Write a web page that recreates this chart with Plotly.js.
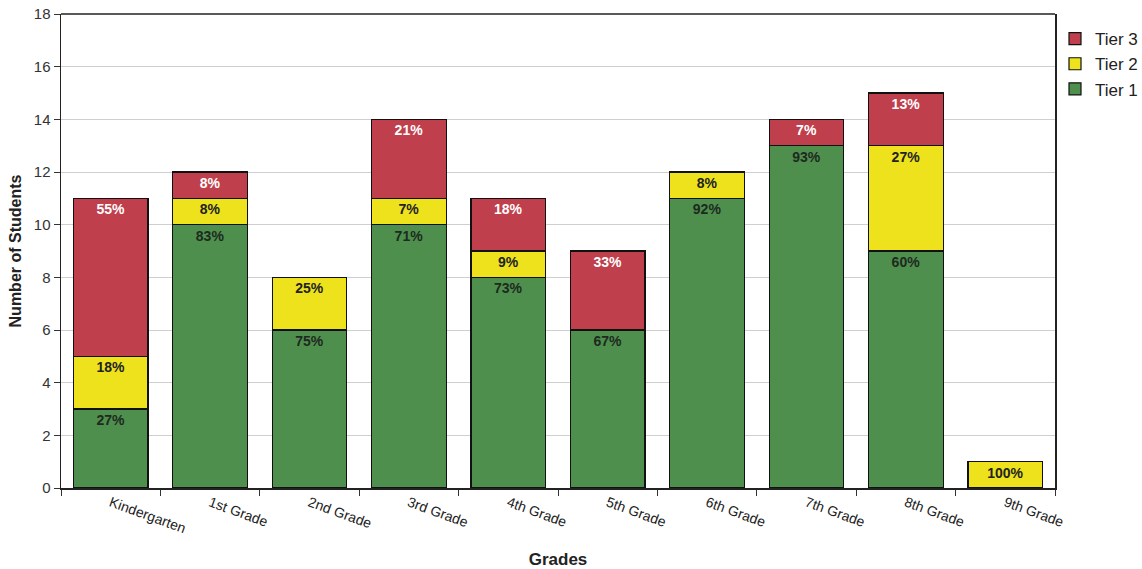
<!DOCTYPE html>
<html><head><meta charset="utf-8">
<script src="https://cdn.plot.ly/plotly-3.0.1.min.js"></script>
<style>body{margin:0;background:#fff}#c{width:1142px;height:569px}</style>
</head><body><div id="c"></div>
<script>
const grades = ["Kindergarten","1st Grade","2nd Grade","3rd Grade","4th Grade","5th Grade","6th Grade","7th Grade","8th Grade","9th Grade"];
const tier1 = [3,10,6,10,8,6,11,13,9,0];
const tier2 = [2,1,2,1,1,0,1,0,4,1];
const tier3 = [6,1,0,3,2,3,0,1,2,0];
const yTicks = [0,2,4,6,8,10,12,14,16,18];

const totals = grades.map((g,i)=>tier1[i]+tier2[i]+tier3[i]);
const pct = arr => arr.map((v,i)=> v>0 ? Math.round(v/totals[i]*100)+'%' : '');

function mk(name, vals, color, tcolor){
  return {type:'bar', name:name, x:grades, y:vals, text:pct(vals),
    textposition:'inside', insidetextanchor:'end', textangle:0, constraintext:'none',
    textfont:{family:'Liberation Sans, Arial', size:14, color:tcolor, weight:'bold'},
    marker:{color:color, line:{color:'#111', width:1.2}}, width:0.75, hoverinfo:'skip'};
}
const data = [
  mk('Tier 1', tier1, '#4e8f4e', '#1e2a1e'),
  mk('Tier 2', tier2, '#ede21c', '#222'),
  mk('Tier 3', tier3, '#bf3f4c', '#ffffff')
];
const layout = {
  width:1142, height:569, barmode:'stack', bargap:0.25,
  margin:{l:61, r:87, t:14, b:81, autoexpand:false},
  paper_bgcolor:'#fff', plot_bgcolor:'#fff',
  font:{family:'Liberation Sans, Arial', color:'#222'},
  xaxis:{tickangle:20, tickson:'boundaries', ticks:'outside', ticklen:6, tickcolor:'#333',
    showline:true, linecolor:'#222', linewidth:1.5, mirror:false,
    tickfont:{size:14, color:'#222'},
    title:{text:'Grades', font:{size:17, weight:'bold', color:'#222'}, standoff:18}},
  yaxis:{range:[0,18], tickvals:yTicks, ticks:'outside', ticklen:6, tickcolor:'#333',
    showline:true, linecolor:'#222', linewidth:1.5, mirror:true,
    gridcolor:'#cfcfcf', gridwidth:1, zeroline:false,
    tickfont:{size:15, color:'#333'},
    title:{text:'Number of Students', font:{size:16, weight:'bold', color:'#222'}, standoff:8}},
  legend:{x:1.0, y:0.985, xanchor:'left', yanchor:'top', traceorder:'reversed',
    font:{size:17, color:'#222'}, itemwidth:30, tracegroupgap:0, bgcolor:'rgba(0,0,0,0)'},
  showlegend:true,
  shapes:[{type:'line', xref:'paper', yref:'paper', x0:0, x1:1, y0:1, y1:1, line:{color:'#222', width:1.5}}]
};
Plotly.newPlot('c', data, layout, {displayModeBar:false, staticPlot:true});
</script></body></html>
